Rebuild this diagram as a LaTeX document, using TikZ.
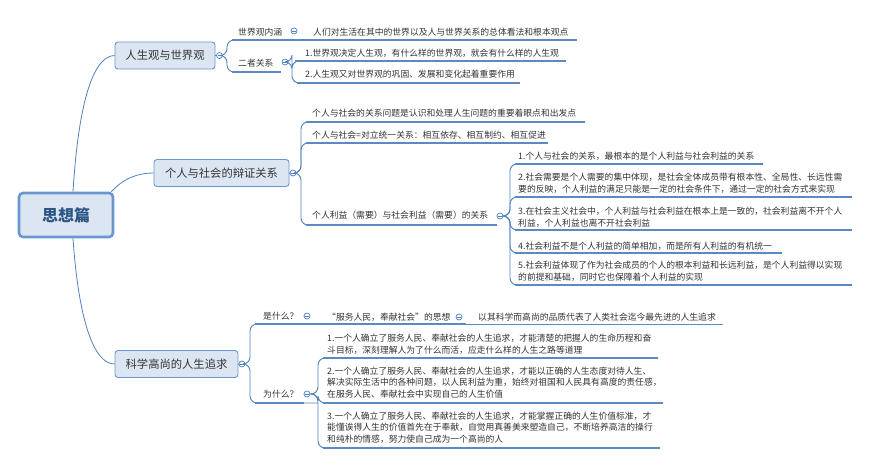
\documentclass[tikz,border=0pt]{standalone}
\usepackage{fontspec}
\newfontfamily\cjk{Noto Sans CJK SC}
\definecolor{linec}{HTML}{4F81BD}
\definecolor{ulc}{HTML}{5A8AC6}
\definecolor{boxf}{HTML}{DCE6F2}
\definecolor{boxd}{HTML}{6A97CF}
\definecolor{txtc}{HTML}{333333}
\definecolor{rootc}{HTML}{2B5585}
\begin{document}
\begin{tikzpicture}[x=1pt,y=-1pt,
  conn/.style={draw=linec, line width=0.8pt},
  brk/.style={draw=linec, line width=0.9pt, rounded corners=7pt},
  uline/.style={draw=ulc, line width=1.6pt},
  txt/.style={font=\cjk\fontsize{8.8}{11.6}\selectfont, text=txtc, inner sep=0pt, anchor=west, align=left},
  topic/.style={draw=boxd, fill=boxf, rounded corners=3pt, line width=0.9pt, font=\cjk\fontsize{11.3}{13}\selectfont, text=txtc, minimum height=27pt, inner sep=0pt},
  rootbox/.style={draw=boxd, fill=boxf, rounded corners=4pt, line width=2.6pt, font=\cjk\bfseries\fontsize{16}{18}\selectfont, text=rootc, minimum width=94pt, minimum height=44pt, inner sep=0pt},
  colps/.style={circle, draw=linec, fill=white, minimum size=6pt, inner sep=0pt, line width=0.7pt,
    path picture={\draw[linec, line width=0.5pt] ([xshift=-1.6pt]path picture bounding box.center) -- ([xshift=1.6pt]path picture bounding box.center);}}
]
\useasboundingbox (0,0) rectangle (870,471);

% root and main topics
\node[rootbox] (root) at (66,215) {思想篇};
\node[topic, minimum width=100pt] (t1) at (165,55.5) {人生观与世界观};
\node[topic, minimum width=135pt] (t2) at (221.5,173) {个人与社会的辩证关系};
\node[topic, minimum width=123pt] (t3) at (176.5,364) {科学高尚的人生追求};

\draw[conn] ([xshift=7pt]root.north) .. controls (79,95) and (95,56) .. (t1.west);
\draw[conn] ([xshift=-3pt]root.north east) .. controls (124,178) and (138,173) .. (t2.west);
\draw[conn] ([xshift=7pt]root.south) .. controls (79,325) and (95,364) .. (t3.west);

% collapse circles
\node[colps] (col1) at (219.5,55.5) {};
\node[colps] (col2) at (293,173) {};
\node[colps] (col3) at (242,364) {};
\draw[conn] (t1.east) -- (col1.west);
\draw[conn] (t2.east) -- (col2.west);
\draw[conn] (t3.east) -- (col3.west);

% ---------- branch 1 ----------
\coordinate (a1s) at (227,40);  \coordinate (a1e) at (298,40);
\coordinate (a2s) at (227,72);  \coordinate (a2e) at (281,72);
\node[txt] (l1) at (238,32) {世界观内涵};
\node[txt] (l2) at (238,63) {二者关系};
\node[colps] (cA) at (294,31) {};
\node[colps] (cB) at (285,62) {};
\draw[brk] (col1.east) -| (a1s) -- (a1e);
\draw[brk] (col1.east) -| (a2s) -- (a2e);
\draw[uline] ([xshift=5pt]a1s) -- (a1e);
\draw[uline] ([xshift=5pt]a2s) -- (a2e);

\coordinate (a11s) at (298,40); \coordinate (a11e) at (577,40);
\node[txt] (a11) at (313,32) {人们对生活在其中的世界以及人与世界关系的总体看法和根本观点};
\draw[uline] (a11s) -- (a11e);

\coordinate (a21s) at (292,61); \coordinate (a21e) at (566,61);
\coordinate (a22s) at (292,83); \coordinate (a22e) at (520,83);
\node[txt] (a21) at (305,53) {1.世界观决定人生观，有什么样的世界观，就会有什么样的人生观};
\node[txt] (a22) at (305,74) {2.人生观又对世界观的巩固、发展和变化起着重要作用};
\draw[brk] (cB.east) -| (a21s) -- (a21e);
\draw[brk] (cB.east) -| (a22s) -- (a22e);
\draw[uline] ([xshift=3pt]a21s) -- (a21e);
\draw[uline] ([xshift=5pt]a22s) -- (a22e);

% ---------- branch 2 ----------
\coordinate (b1s) at (301,122); \coordinate (b1e) at (585,122);
\coordinate (b2s) at (301,143); \coordinate (b2e) at (548,143);
\coordinate (b3s) at (301,225); \coordinate (b3e) at (497,225);
\node[txt] (b1) at (312,113) {个人与社会的关系问题是认识和处理人生问题的重要着眼点和出发点};
\node[txt] (b2) at (312,135) {个人与社会=对立统一关系：相互依存、相互制约、相互促进};
\node[txt] (b3) at (312,215) {个人利益（需要）与社会利益（需要）的关系};
\draw[brk] (col2.east) -| (b1s) -- (b1e);
\draw[brk] (col2.east) -| (b2s) -- (b2e);
\draw[brk] (col2.east) -| (b3s) -- (b3e);
\draw[uline] ([xshift=5pt]b1s) -- (b1e);
\draw[uline] ([xshift=5pt]b2s) -- (b2e);
\draw[uline] ([xshift=5pt]b3s) -- (b3e);
\node[colps] (cC) at (500,216) {};

\coordinate (d1s) at (510,164); \coordinate (d1e) at (763,164);
\coordinate (d2s) at (510,197); \coordinate (d2e) at (852,197);
\coordinate (d3s) at (510,230); \coordinate (d3e) at (852,230);
\coordinate (d4s) at (510,253); \coordinate (d4e) at (782,253);
\coordinate (d5s) at (510,285); \coordinate (d5e) at (852,285);
\node[txt] (d1) at (518,156) {1.个人与社会的关系，最根本的是个人利益与社会利益的关系};
\node[txt] (d2) at (518,183.5) {2.社会需要是个人需要的集中体现，是社会全体成员带有根本性、全局性、长远性需\\要的反映，个人利益的满足只能是一定的社会条件下，通过一定的社会方式来实现};
\node[txt] (d3) at (518,217) {3.在社会主义社会中，个人利益与社会利益在根本上是一致的，社会利益离不开个人\\利益，个人利益也离不开社会利益};
\node[txt] (d4) at (518,246) {4.社会利益不是个人利益的简单相加，而是所有人利益的有机统一};
\node[txt] (d5) at (518,271) {5.社会利益体现了作为社会成员的个人的根本利益和长远利益，是个人利益得以实现\\的前提和基础，同时它也保障着个人利益的实现};
\foreach \n in {d1,d2,d3,d4,d5}{
  \draw[brk] (cC.east) -| (\n s) -- (\n e);
  \draw[uline] ([xshift=5pt]\n s) -- (\n e);
}

% ---------- branch 3 ----------
\coordinate (f1s) at (250,324); \coordinate (f1e) at (320,324);
\coordinate (f2s) at (250,403); \coordinate (f2e) at (318,403);
\node[txt] (f1) at (263,316) {是什么？};
\node[txt] (f2) at (263,394) {为什么？};
\draw[brk] (col3.east) -| (f1s) -- (f1e);
\draw[brk] (col3.east) -| (f2s) -- (f2e);
\draw[uline] ([xshift=5pt]f1s) -- (f1e);
\draw[uline] ([xshift=5pt]f2s) -- ([xshift=-14pt]f2e);
\node[colps] (cD) at (307,316) {};
\node[colps] (cF) at (307,394) {};

\coordinate (g1s) at (320,324); \coordinate (g1e) at (466,324);
\node[txt] (g1) at (327,317) {“服务人民，奉献社会”的思想};
\draw[uline] (g1s) -- (g1e);
\node[colps] (cE) at (459,317) {};
\coordinate (h1s) at (466,324.5); \coordinate (h1e) at (723,324.5);
\node[txt] (h1) at (478,317) {以其科学而高尚的品质代表了人类社会迄今最先进的人生追求};
\draw[uline] (h1s) -- (h1e);

\coordinate (e1s) at (318,358); \coordinate (e1e) at (658,358);
\coordinate (e2s) at (318,403); \coordinate (e2e) at (663,403);
\coordinate (e3s) at (318,448); \coordinate (e3e) at (660,448);
\node[txt] (e1) at (327,344) {1.一个人确立了服务人民、奉献社会的人生追求，才能清楚的把握人的生命历程和奋\\斗目标，深刻理解人为了什么而活，应走什么样的人生之路等道理};
\node[txt] (e2) at (327,382.5) {2.一个人确立了服务人民、奉献社会的人生追求，才能以正确的人生态度对待人生、\\解决实际生活中的各种问题，以人民利益为重，始终对祖国和人民具有高度的责任感，\\在服务人民、奉献社会中实现自己的人生价值};
\node[txt] (e3) at (327,427.5) {3.一个人确立了服务人民、奉献社会的人生追求，才能掌握正确的人生价值标准，才\\能懂诶得人生的价值首先在于奉献，自觉用真善美来塑造自己，不断培养高洁的操行\\和纯朴的情感，努力使自己成为一个高尚的人};
\foreach \n in {e1,e2,e3}{
  \draw[brk] (cF.east) -| (\n s) -- (\n e);
  \draw[uline] ([xshift=5pt]\n s) -- (\n e);
}
\end{tikzpicture}
\end{document}
